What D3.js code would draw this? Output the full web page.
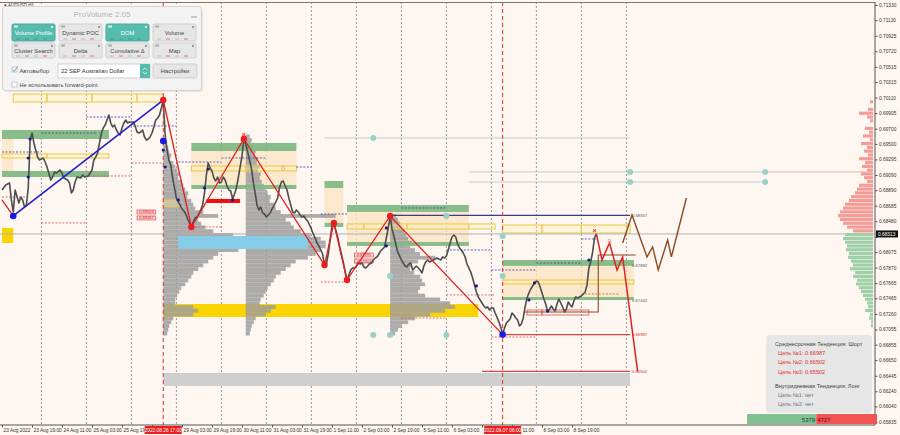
<!DOCTYPE html>
<html><head><meta charset="utf-8">
<script src="https://cdn.jsdelivr.net/npm/d3@7"></script>
<style>body{margin:0;background:#fef6f0}svg{display:block}</style>
</head><body>
<svg id="c" width="900" height="435"></svg>
<script>
// ---------------- DATA ----------------
const symbolLabel = "▾ AUDUSD,H1";
const xTickBars = [0,16,32,48,64,80,96,112,128,144,160,176,192,208,224,240,256,272,288,304];
const xTickLabels = ["23 Aug 2022","23 Aug 19:00","24 Aug 11:00","25 Aug 03:00","25 Aug 19:00","","29 Aug 03:00","29 Aug 19:00","30 Aug 11:00","31 Aug 03:00","31 Aug 19:00","1 Sep 11:00","2 Sep 03:00","2 Sep 19:00","5 Sep 11:00","6 Sep 03:00","","11:00","8 Sep 03:00","8 Sep 19:00"];
const daySeparatorBars = [21,45,69,93,117,141,165,189,213,237,261,285,309,333];
const markedBars = [86,267];
const markedLabels = ["2022.08.26 17:00","2022.09.07 06:00"];
const yTickValues = [0.71330,0.71130,0.70925,0.70720,0.70515,0.70315,0.70110,0.69905,0.69700,0.69500,0.69295,0.69090,0.68890,0.68685,0.68480,0.68275,0.68075,0.67870,0.67665,0.67465,0.67260,0.67055,0.66855,0.66650,0.66445,0.66240,0.66040,0.65835];
const currentPrice = 0.68313;

// hourly closes, first stretch (bar index, close)
const barsA = [0,2,4,5,6,7,9,10,11,12,13,14,15,16,17,18,19,20,22,23,24,26,27,28,29,31,32,33,35,36,37,38,39,40,42,43,44,46,47,48,49,50,51,52,53,54,55,56,57,58,59,60,61,62,63,64,65,66,67,68,70,71,72,73,74,75,76,77,78,79,80,81,82,83,84,85];
const closesA = [0.68892,0.68958,0.68984,0.68761,0.68603,0.68892,0.68721,0.68800,0.68761,0.68669,0.68695,0.68919,0.69551,0.69643,0.69512,0.69419,0.69327,0.69288,0.69314,0.69261,0.69195,0.69024,0.69063,0.69129,0.69116,0.69156,0.69116,0.69050,0.69024,0.68984,0.68853,0.68892,0.68998,0.69063,0.69050,0.69090,0.69063,0.69077,0.69116,0.69156,0.69288,0.69327,0.69380,0.69512,0.69643,0.69710,0.69749,0.69815,0.69881,0.69775,0.69722,0.69749,0.69683,0.69643,0.69617,0.69710,0.69775,0.69815,0.69775,0.69789,0.69789,0.69736,0.69657,0.69643,0.69657,0.69683,0.69591,0.69551,0.69564,0.69591,0.69643,0.69722,0.69815,0.69841,0.69881,0.69973];
// hourly closes from bar 86 to bar 317
const firstBarB = 86;
const closesB = [0.70078,0.69617,0.69419,0.69288,0.69222,0.69050,0.68919,0.68787,0.68734,0.68695,0.68642,0.68616,0.68576,0.68510,0.68458,0.68405,0.68471,0.68523,0.68537,0.68576,
0.68629,0.68695,0.68853,0.69090,0.69248,0.69182,0.69143,0.69050,0.69011,0.69063,0.68984,0.68998,0.69063,0.69024,0.68945,0.68892,0.68879,0.68774,0.68840,0.68919,
0.69050,0.69195,0.69340,0.69564,0.69498,0.69393,0.69288,0.69182,0.68998,0.68853,0.68695,0.68629,0.68669,0.68589,0.68576,0.68537,0.68563,0.68589,0.68642,0.68682,
0.68734,0.68787,0.68919,0.68998,0.69011,0.68945,0.68892,0.68787,0.68695,0.68603,0.68589,0.68629,0.68603,0.68563,0.68537,0.68550,0.68510,0.68484,0.68431,0.68379,
0.68313,0.68260,0.68194,0.68155,0.68102,0.68049,0.67904,0.67917,0.68049,0.68234,0.68418,0.68458,0.68365,0.68273,0.68155,0.68049,0.67944,0.67812,0.67706,0.67772,
0.67838,0.67865,0.67865,0.67891,0.67930,0.67917,0.67930,0.67878,0.67865,0.67891,0.67917,0.67930,0.67970,0.67997,0.68010,0.68049,0.68089,0.68115,0.68142,0.68260,
0.68392,0.68550,0.68379,0.68286,0.68181,0.68076,0.68023,0.67970,0.67930,0.67891,0.67878,0.67917,0.67930,0.67838,0.67865,0.67891,0.67865,0.67838,0.67799,0.67891,
0.67944,0.67970,0.67944,0.67957,0.67970,0.67983,0.67997,0.67983,0.67970,0.68010,0.67997,0.68023,0.68102,0.68194,0.68273,0.68299,0.68273,0.68181,0.68128,0.68102,
0.68062,0.68010,0.67917,0.67865,0.67812,0.67733,0.67641,0.67548,0.67483,0.67443,0.67403,0.67364,0.67337,0.67351,0.67311,0.67337,0.67337,0.67271,0.67219,0.67153,
0.67087,0.66987,0.67074,0.67140,0.67166,0.67193,0.67272,0.67245,0.67206,0.67179,0.67100,0.67127,0.67206,0.67351,0.67470,0.67535,0.67588,0.67627,0.67667,0.67693,
0.67680,0.67614,0.67535,0.67456,0.67390,0.67285,0.67324,0.67364,0.67324,0.67298,0.67390,0.67456,0.67403,0.67351,0.67285,0.67324,0.67417,0.67377,0.67351,0.67430,
0.67483,0.67470,0.67483,0.67496,0.67522,0.67549,0.67641,0.67865,0.67944,0.68076,0.68260,0.68313];

// zigzags
const zigBlueBars = [6,86];
const zigBluePrices = [0.68550,0.70078];
const zigRedLeadBars = [0,6];
const zigRedLeadPrices = [0.68761,0.68550];
const zigRedBars = [86,101,129,172,177,184,207,267];
const zigRedPrices = [0.70078,0.68405,0.69564,0.67904,0.68458,0.67706,0.68550,0.66987];
const projRedBars = [317,320,324,328,331,339];
const projRedPrices = [0.68313,0.67970,0.68194,0.67838,0.68010,0.66502];
const projBrownBars = [331,336,344,347,350,355,357,365];
const projBrownPrices = [0.68194,0.68563,0.68010,0.68142,0.67838,0.68234,0.68010,0.68787];
const rangeBoxBars = [279,318,318,338];
const rangeBoxPrices = [0.67285,0.67285,0.68036,0.68036];
const smallDotBars = [15,14,14,86,87,94,108,110,123,205,205,253,284,281,291,313];
const smallDotPrices = [0.69564,0.69314,0.69063,0.69419,0.69195,0.68761,0.68919,0.69169,0.68761,0.68392,0.68155,0.67628,0.67667,0.67443,0.67298,0.67970];
const bigBlueDotBars = [6,86,267];
const bigBlueDotPrices = [0.68550,0.69538,0.66987];
const crossBars = [129,316];
const crossPrices = [0.69617,0.68352];
const zeroMarkBars = [150,324];
const zeroMarkPrices = [0.69170,0.68207];

// zones: [startBar, endBar, upperPrice, lowerPrice]
const peachZones = [[0,6,0.69564,0.69143],[101,157,0.69406,0.68958],[172,182,0.68919,0.68458],[184,249,0.68603,0.68207],[267,337,0.67892,0.67482]];
const greenZones = [[0,57,0.69683,0.69564],[0,57,0.69143,0.69063],[101,157,0.69512,0.69406],[101,157,0.68958,0.68906],[172,182,0.69011,0.68919],[172,182,0.68458,0.68405],[184,249,0.68695,0.68603],[184,249,0.68207,0.68155],[267,337,0.67970,0.67892],[267,337,0.67482,0.67442]];
const yellowBoxes = [[6,24,0.70157,0.70052],[24,48,0.70157,0.70052],[48,72,0.70157,0.70052],[72,86,0.70157,0.70052],
  [0,24,0.69367,0.69314],[24,48,0.69367,0.69314],[48,57,0.69367,0.69314],[86,94,0.68761,0.68669],
  [101,130,0.69209,0.69143],[130,157,0.69209,0.69143],
  [184,193,0.68445,0.68379],[193,216,0.68445,0.68379],[216,249,0.68445,0.68379],[249,263,0.68445,0.68379],
  [267,288,0.68431,0.68326],[288,309,0.68431,0.68326],[309,335,0.68431,0.68326],
  [267,337,0.67706,0.67653]];
const goldZones = [[0,6,0.68392,0.68194],[86,254,0.67390,0.67219]];
const blueZones = [[94,163,0.68286,0.68115]];
const grayZones = [[86,335,0.66481,0.66310]];
const redBars = [[109,127,0.68774,0.68721]];
const redLabelBoxes = [[72,82,0.68629,0.68576,"0.68603"],[72,82,0.68550,0.68497,"0.68467"],[188,198,0.68062,0.68010,"0.67991"],[188,198,0.67983,0.67930,"0.67902"]];
const redOutlineBars = [[280,288,0.67311,0.67245],[288,313,0.67311,0.67245]];

// level lines [startBar, endBar, price]
const navyLevels = [[207,335,0.68557]];
const redLevels = [[267,335,0.66987],[256,335,0.66502]];
const levelLabels = ["0.68557","0.67892","0.67442","0.66987","0.66502"];
const levelLabelPrices = [0.68557,0.67892,0.67442,0.66987,0.66502];
const grayLevels = [[172,335,0.69578],[249,407,0.69130],[249,407,0.68998]];
const pinkLevels = [[407,464,0.69130]];
const blueDotLevels = [[0,21,0.69393],[21,50,0.69643],[45,69,0.69854],[70,93,0.69736],[94,117,0.69261],[117,141,0.69314],[157,165,0.69195],[170,184,0.68576],[213,237,0.68655],[237,261,0.68102],[261,285,0.67838],[285,309,0.67930],[309,317,0.68247]];
const redDotLevels = [[0,13,0.68800],[21,45,0.68458],[45,69,0.69077],[69,86,0.69248],[101,117,0.68405],[170,184,0.67680],[237,263,0.67509],[213,237,0.67206],[261,285,0.66955],[309,329,0.67522]];
const tealCircleBars = [207,198,207,237,237,267,267,198,335,335,407,407];
const tealCirclePrices = [0.67759,0.66982,0.66982,0.66982,0.68550,0.68286,0.67759,0.69578,0.69130,0.68998,0.69130,0.68998];

// volume profiles: start bar, top price, step, volumes (top to bottom)
const profileStep = 0.0005;
const profile1Start = 86, profile1Top = 0.6950;
const profile1Vol = [4,5,6,8,7,10,12,14,16,15,18,20,22,25,24,28,30,32,40,55,35,38,42,50,70,85,90,80,75,55,50,45,40,35,30,28,25,22,18,16,14,12,12,30,35,30,10,8,6,5,4];
const profile2Start = 130, profile2Top = 0.6960;
const profile2Vol = [4,6,5,8,10,9,12,11,14,12,15,14,16,18,20,22,25,24,28,30,35,90,40,45,48,55,65,75,80,80,75,70,62,50,45,40,35,30,28,25,22,20,18,15,14,30,25,20,10,8,6,5,4];
const profile3Start = 207, profile3Top = 0.6855;
const profile3Vol = [6,8,10,12,14,16,18,22,20,25,30,45,28,22,20,24,30,32,35,30,28,35,50,60,65,55,40,25,18,12,8,5];
const rightProfileTop = 0.7010;
const rightProfileVol = [0,3,0,5,14,6,3,0,8,4,10,3,12,6,9,5,14,8,11,6,12,9,6,14,16,18,22,24,28,30,33,35,33,30,26,20,28,30,28,26,27,24,25,22,20,23,18,20,16,17,14,12,10,8,6,5,8,3,4,2,2];

// panel / info
const panelTitle = "ProVolume 2.05";
const panelButtons = ["Volume Profile","Dynamic POC","DOM","Volume","Cluster Search","Delta","Cumulative Δ","Map"];
const panelActive = [true,false,true,false,false,false,false,false];
const infoLines = ["Среднесрочная Тенденция: Шорт","Цель №1: 0.66987","Цель №2: 0.66502","Цель №3: 0.65502","Внутридневная Тенденция: Лонг","Цель №1: нет","Цель №2: нет"];
const buyVolume = 5379, sellVolume = 4727;

// ---------------- DRAW ----------------
const svg = d3.select('#c');
const x = d3.scaleLinear().domain([0,464]).range([2,872]);
const y = d3.scaleLinear().domain([0.65835,0.71330]).range([422,5]);
const vol = d3.scaleLinear().domain([0,100]).range([0,100]);
const R = 875, B = 425;
const FONT = "'Liberation Sans', Arial, sans-serif";

svg.append('rect').attr('width',900).attr('height',435).attr('fill','#fef6f0');
svg.append('defs').append('clipPath').attr('id','plot').append('rect').attr('x',0).attr('y',2).attr('width',R).attr('height',B-2);
const g = svg.append('g').attr('clip-path','url(#plot)');

// day separators
g.selectAll('.sep').data(daySeparatorBars).join('line')
  .attr('x1',d=>x(d)).attr('x2',d=>x(d)).attr('y1',2).attr('y2',B)
  .attr('stroke','#9a9a9a').attr('stroke-width',1).attr('stroke-dasharray','2,2');

function zoneRects(data, fill, opacity, stroke) {
  return g.append('g').selectAll('rect').data(data).join('rect')
    .attr('x',d=>x(d[0])).attr('width',d=>x(d[1])-x(d[0]))
    .attr('y',d=>y(d[2])).attr('height',d=>Math.max(1,y(d[3])-y(d[2])))
    .attr('fill',fill).attr('fill-opacity',opacity)
    .attr('stroke',stroke||'none');
}
zoneRects(peachZones,'#fbe3c0',0.75);
zoneRects(grayZones,'#cfcfcf',1);
zoneRects(goldZones,'#fad400',1);

// volume profiles (gray)
function profile(start, top, vols, fill) {
  const rows = vols.map((v,i)=>({p: top - i*profileStep, v}));
  g.append('g').selectAll('rect').data(rows).join('rect')
    .attr('x', x(start)).attr('width', d=>vol(d.v))
    .attr('y', d=>y(d.p + profileStep/2)).attr('height', d=>y(d.p - profileStep/2)-y(d.p + profileStep/2))
    .attr('fill', fill).attr('fill-opacity',0.85);
}
profile(profile1Start, profile1Top, profile1Vol, '#9d9d9d');
profile(profile2Start, profile2Top, profile2Vol, '#9d9d9d');
profile(profile3Start, profile3Top, profile3Vol, '#9d9d9d');

zoneRects(blueZones,'#86cdea',1);
zoneRects(greenZones,'#82b882',0.95);
zoneRects(yellowBoxes,'#fff0b0',0.35,'#e9c845');
zoneRects(redBars,'#f01010',1);
zoneRects(redOutlineBars,'none',1,'#e07070');
const rlb = g.append('g').selectAll('g').data(redLabelBoxes).join('g');
rlb.append('rect').attr('x',d=>x(d[0])).attr('width',d=>x(d[1])-x(d[0])).attr('y',d=>y(d[2])).attr('height',d=>y(d[3])-y(d[2]))
  .attr('fill','#f9d4d4').attr('stroke','#e04040').attr('stroke-width',0.6);
rlb.append('text').attr('x',d=>(x(d[0])+x(d[1]))/2).attr('y',d=>(y(d[2])+y(d[3]))/2+1.5).attr('text-anchor','middle')
  .attr('font-size',4).attr('font-family',FONT).attr('fill','#d02020').text(d=>d[4]);

// dotted levels
g.append('g').selectAll('line').data(blueDotLevels).join('line')
  .attr('x1',d=>x(d[0])).attr('x2',d=>x(d[1])).attr('y1',d=>y(d[2])).attr('y2',d=>y(d[2]))
  .attr('stroke','#3a3ab0').attr('stroke-width',0.8).attr('stroke-dasharray','2,1.5');
g.append('g').selectAll('line').data(redDotLevels).join('line')
  .attr('x1',d=>x(d[0])).attr('x2',d=>x(d[1])).attr('y1',d=>y(d[2])).attr('y2',d=>y(d[2]))
  .attr('stroke','#d05050').attr('stroke-width',0.8).attr('stroke-dasharray','2,1.5');
g.append('g').selectAll('line').data(grayLevels).join('line')
  .attr('x1',d=>x(d[0])).attr('x2',d=>x(d[1])).attr('y1',d=>y(d[2])).attr('y2',d=>y(d[2]))
  .attr('stroke','#c3cdd2').attr('stroke-width',1);
g.append('g').selectAll('line').data(pinkLevels).join('line')
  .attr('x1',d=>x(d[0])).attr('x2',d=>x(d[1])).attr('y1',d=>y(d[2])).attr('y2',d=>y(d[2]))
  .attr('stroke','#efb0ac').attr('stroke-width',1);

// current price line
g.append('line').attr('x1',0).attr('x2',R).attr('y1',y(currentPrice)).attr('y2',y(currentPrice)).attr('stroke','#b0b0b0').attr('stroke-width',1);

// right-side volume profile
const rp = rightProfileVol.map((v,i)=>({p: rightProfileTop - i*profileStep, v}));
g.append('g').selectAll('rect').data(rp).join('rect')
  .attr('x', d=>R-2-vol(d.v)).attr('width', d=>vol(d.v))
  .attr('y', d=>y(d.p + profileStep/2)).attr('height', d=>y(d.p - profileStep/2)-y(d.p + profileStep/2) - 0.6)
  .attr('fill', d=> d.p > currentPrice ? '#f49d98' : '#9fd0a8');

// levels
g.append('g').selectAll('line').data(navyLevels).join('line')
  .attr('x1',d=>x(d[0])).attr('x2',d=>x(d[1])).attr('y1',d=>y(d[2])).attr('y2',d=>y(d[2]))
  .attr('stroke','#3b3b8c').attr('stroke-width',1.2);
g.append('g').selectAll('line').data(redLevels).join('line')
  .attr('x1',d=>x(d[0])).attr('x2',d=>x(d[1])).attr('y1',d=>y(d[2])).attr('y2',d=>y(d[2]))
  .attr('stroke','#d84848').attr('stroke-width',1.4);
g.append('g').selectAll('text').data(levelLabels).join('text')
  .attr('x', x(336)).attr('y',(d,i)=>y(levelLabelPrices[i])+1.5)
  .attr('font-size',4.2).attr('font-family',FONT)
  .attr('fill',(d,i)=> i>=3 ? '#d03030' : '#555').text(d=>d);

// brown range box
const brown = '#8b4a22';
g.append('path').attr('fill','none').attr('stroke',brown).attr('stroke-width',1.1)
  .attr('d', d3.line().x(d=>x(d[0])).y(d=>y(d[1]))(rangeBoxBars.map((b,i)=>[b,rangeBoxPrices[i]])));

// price line
const pricePts = barsA.map((b,i)=>[b, closesA[i]]).concat(closesB.map((c,i)=>[firstBarB+i, c]));
g.append('path').datum(pricePts).attr('fill','none').attr('stroke','#4d4d4d').attr('stroke-width',1.6)
  .attr('stroke-linejoin','round')
  .attr('d', d3.line().x(d=>x(d[0])).y(d=>y(d[1])));

// marked red dashed verticals
g.selectAll('.mk').data(markedBars).join('line')
  .attr('x1',d=>x(d)).attr('x2',d=>x(d)).attr('y1',2).attr('y2',B)
  .attr('stroke','#e03030').attr('stroke-width',1).attr('stroke-dasharray','4,3');

// zigzags
const zl = d3.line().x(d=>x(d[0])).y(d=>y(d[1]));
function pathOf(bars, prices, color, w) {
  g.append('path').datum(bars.map((b,i)=>[b,prices[i]])).attr('fill','none').attr('stroke',color).attr('stroke-width',w).attr('d',zl);
}
pathOf(zigBlueBars, zigBluePrices, '#2020d0', 1.6);
pathOf(zigRedLeadBars, zigRedLeadPrices, '#e02020', 1.3);
pathOf(zigRedBars, zigRedPrices, '#e02020', 1.3);
pathOf(projBrownBars, projBrownPrices, brown, 1.4);
pathOf(projRedBars, projRedPrices, '#e02020', 1.5);

// dots
g.append('g').selectAll('circle').data(zigRedBars.slice(0,7)).join('circle')
  .attr('cx',d=>x(d)).attr('cy',(d,i)=>y(zigRedPrices[i])).attr('r',3.2).attr('fill','#ee1c1c');
g.append('g').selectAll('circle').data(bigBlueDotBars).join('circle')
  .attr('cx',d=>x(d)).attr('cy',(d,i)=>y(bigBlueDotPrices[i])).attr('r',3.3).attr('fill','#1c1ce0');
g.append('g').selectAll('circle').data(smallDotBars).join('circle')
  .attr('cx',d=>x(d)).attr('cy',(d,i)=>y(smallDotPrices[i])).attr('r',1.6).attr('fill','#1a1a90');
g.append('g').selectAll('circle').data(tealCircleBars).join('circle')
  .attr('cx',d=>x(d)).attr('cy',(d,i)=>y(tealCirclePrices[i])).attr('r',3).attr('fill','#9dcfca');
g.append('g').selectAll('text').data(crossBars).join('text')
  .attr('x',d=>x(d)).attr('y',(d,i)=>y(crossPrices[i])+2).attr('text-anchor','middle')
  .attr('font-size',7).attr('font-weight','bold').attr('font-family',FONT).attr('fill','#e03030').text('×');
g.append('g').selectAll('text').data(zeroMarkBars).join('text')
  .attr('x',d=>x(d)).attr('y',(d,i)=>y(zeroMarkPrices[i])+2.5).attr('text-anchor','middle')
  .attr('font-size',7).attr('font-family',FONT).attr('fill','#f08a7a').text('0');

// frame & axes
svg.append('line').attr('x1',0).attr('x2',R).attr('y1',2.5).attr('y2',2.5).attr('stroke','#777');
const yAxis = svg.append('g').attr('transform',`translate(${R},0)`)
  .call(d3.axisRight(y).tickValues(yTickValues).tickSize(2.5)
    .tickFormat(d => Math.abs(y(d)-y(currentPrice))<6 ? '' : d3.format('.5f')(d)));
yAxis.select('.domain').attr('stroke','#555').attr('d',`M0,2V${B}`);
yAxis.selectAll('text').attr('font-size',4.8).attr('font-family',FONT).attr('fill','#333').attr('x',4);
yAxis.selectAll('line').attr('stroke','#555');
const xAxis = svg.append('g').attr('transform',`translate(0,${B})`)
  .call(d3.axisBottom(x).tickValues(xTickBars).tickFormat((d,i)=>xTickLabels[i]).tickSize(2.5));
xAxis.select('.domain').attr('stroke','#555').attr('d',`M0,0H${R}`);
xAxis.selectAll('text').attr('font-size',4.8).attr('font-family',FONT).attr('fill','#333').attr('text-anchor','start')
  .attr('dx',(d,i)=> xTickLabels[i]==='11:00' ? 10 : 1).attr('y',4);
xAxis.selectAll('line').attr('stroke','#555');

// marked date boxes
const mb = svg.append('g').selectAll('g').data(markedBars).join('g');
mb.append('rect').attr('x',d=>x(d)-18.5).attr('y',B+1).attr('width',37).attr('height',8).attr('fill','#ee1c1c');
mb.append('text').attr('x',d=>x(d)).attr('y',B+7).attr('text-anchor','middle').attr('font-size',4.8).attr('font-family',FONT)
  .attr('fill','#fff').text((d,i)=>markedLabels[i]);

// current price box
svg.append('rect').attr('x',R+1).attr('y',y(currentPrice)-3.5).attr('width',22).attr('height',7).attr('fill','#111');
svg.append('text').attr('x',R+3).attr('y',y(currentPrice)+1.8).attr('font-size',4.8).attr('font-family',FONT).attr('fill','#fff')
  .text(d3.format('.5f')(currentPrice));

// info box
const ib = svg.append('g');
ib.append('rect').attr('x',766).attr('y',335).attr('width',106).attr('height',78).attr('rx',4).attr('fill','#e5e5e5').attr('fill-opacity',0.95);
const infoY = [344,353,362,372,386,395,404];
ib.selectAll('text').data(infoLines).join('text')
  .attr('x',(d,i)=> (i===0||i===4)? 775 : 778).attr('y',(d,i)=>infoY[i]+2)
  .attr('font-size',5.6).attr('font-family',FONT)
  .attr('fill',(d,i)=> (i>=1&&i<=3) ? '#e03030' : (i>=5 ? '#777' : '#444'))
  .text(d=>d);

// buy/sell bar
const bsx = d3.scaleLinear().domain([0,buyVolume+sellVolume]).range([747,877]);
svg.append('rect').attr('x',bsx(0)).attr('y',414).attr('width',bsx(buyVolume)-bsx(0)).attr('height',10).attr('fill','#7fc193');
svg.append('rect').attr('x',bsx(buyVolume)).attr('y',414).attr('width',bsx(buyVolume+sellVolume)-bsx(buyVolume)).attr('height',10).attr('fill','#f25353');
svg.append('text').attr('x',bsx(buyVolume)-1).attr('y',421.5).attr('text-anchor','end').attr('font-size',6).attr('font-family',FONT).attr('fill','#1e3d2a').text(buyVolume);
svg.append('text').attr('x',bsx(buyVolume)+1).attr('y',421.5).attr('font-size',6).attr('font-family',FONT).attr('fill','#5a1010').text(sellVolume);

// symbol label
svg.append('text').attr('x',4).attr('y',7).attr('font-size',4.5).attr('font-family',FONT).attr('fill','#333').text(symbolLabel);

// panel
const P = svg.append('g');
P.append('rect').attr('x',4).attr('y',8).attr('width',199).attr('height',84).attr('rx',3).attr('fill','#000').attr('fill-opacity',0.08);
P.append('rect').attr('x',2.5).attr('y',6.5).attr('width',199).attr('height',84).attr('rx',3).attr('fill','#f3f3f3').attr('stroke','#d4d4d4');
P.append('text').attr('x',102).attr('y',17).attr('text-anchor','middle').attr('font-size',8).attr('font-family',FONT).attr('fill','#b4b4b4').text(panelTitle);
P.append('line').attr('x1',191).attr('x2',197).attr('y1',17).attr('y2',17).attr('stroke','#999');
const bx = [12,59,106,153], bw = 43;
panelButtons.forEach((lab,i)=>{
  const col = i%4, row = Math.floor(i/4);
  const X = bx[col], Y = row===0 ? 24 : 43, Hh = row===0 ? 17 : 15;
  const act = panelActive[i];
  P.append('rect').attr('x',X).attr('y',Y).attr('width',bw).attr('height',Hh).attr('rx',1.5)
    .attr('fill', act ? '#56bcae' : '#e6e6e6').attr('stroke', act ? '#4aa99c' : '#d0d0d0');
  P.append('text').attr('x',X+bw/2).attr('y',Y+Hh/2+2.5).attr('text-anchor','middle').attr('font-size',5.8).attr('font-family',FONT)
    .attr('fill', act ? '#fff' : '#444').text(lab);
  P.append('rect').attr('x',X+2).attr('y',Y+1.5).attr('width',4).attr('height',2).attr('fill', act ? '#d8f0ec' : '#aaa');
  P.append('circle').attr('cx',X+bw-3).attr('cy',Y+3).attr('r',1.1).attr('fill', act ? '#e8f8f5' : '#888');
  [0,1,2,3].forEach(k=>{
    P.append('line').attr('x1',X+4+k*9).attr('x2',X+8+k*9).attr('y1',Y+Hh-2).attr('y2',Y+Hh-2)
      .attr('stroke', act ? '#3e8f85' : (k%2 ? '#d06060' : '#b0b0b0')).attr('stroke-width',0.8);
  });
});
// row 3
P.append('rect').attr('x',12).attr('y',67).attr('width',5).attr('height',5).attr('fill','#fff').attr('stroke','#aaa').attr('stroke-width',0.6);
P.append('path').attr('d','M12.8,69.5 L14.3,71.5 L17.5,66.5').attr('fill','none').attr('stroke','#4aa99c').attr('stroke-width',0.9);
P.append('text').attr('x',19.5).attr('y',72.5).attr('font-size',5.8).attr('font-family',FONT).attr('fill','#444').text('Автовыбор');
P.append('rect').attr('x',58).attr('y',64).attr('width',92).attr('height',14).attr('fill','#fff').attr('stroke','#d0d0d0');
P.append('rect').attr('x',140).attr('y',64).attr('width',10).attr('height',14).attr('fill','#56bcae');
P.append('path').attr('d','M143,70 L145,68 L147,70 M143,72 L145,74 L147,72').attr('fill','none').attr('stroke','#fff').attr('stroke-width',0.7);
P.append('text').attr('x',61).attr('y',73).attr('font-size',5.8).attr('font-family',FONT).attr('fill','#333').text('22 SEP Australian Dollar');
P.append('rect').attr('x',153).attr('y',64).attr('width',44).attr('height',14).attr('rx',1.5).attr('fill','#e6e6e6').attr('stroke','#d0d0d0');
P.append('text').attr('x',175).attr('y',73).attr('text-anchor','middle').attr('font-size',5.8).attr('font-family',FONT).attr('fill','#444').text('Настройки');
// row 4
P.append('rect').attr('x',12).attr('y',82).attr('width',5).attr('height',5).attr('fill','#fff').attr('stroke','#aaa').attr('stroke-width',0.6);
P.append('text').attr('x',19.5).attr('y',86.8).attr('font-size',5.6).attr('font-family',FONT).attr('fill','#444').text('Не использовать forward-point');
</script>
</body></html>
